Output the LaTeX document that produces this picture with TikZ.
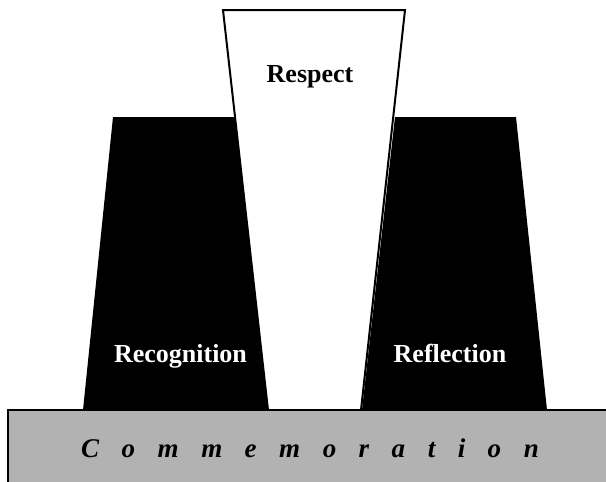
\documentclass[tikz,border=0pt]{standalone}
\usepackage{fontspec}
\setmainfont{Liberation Serif}
\newcommand{\lettergap}{\hspace{22.5pt}}
\begin{document}
\begin{tikzpicture}[x=1pt, y=-1pt,
    pillar/.style={fill=black},
    label/.style={anchor=base, inner sep=0pt, font=\fontsize{26}{30}\selectfont\bfseries}]
        \useasboundingbox (0,0) rectangle (606,482);
        \clip (0,0) rectangle (606,482);
        % Side pillars
        \fill[pillar] (113,117) -- (235,117) -- (268,410) -- (83,410) -- cycle;
        \fill[pillar] (395,117) -- (516,117) -- (547,410) -- (362,410) -- cycle;
        % Middle pillar
        \draw[fill=white, line width=2pt] (223,10) -- (405,10) -- (361,410) -- (268,410) -- cycle;
        % Base
        \draw[fill=black!30, line width=2.5pt] (8,410) rectangle (620,500);
        % Labels
        \node[label] (respect) at (310,82) {Respect};
        \node[label, text=white] (recognition) at (180.5,362) {Recognition};
        \node[label, text=white] (reflection) at (450,362) {Reflection};
        \node[label, font=\fontsize{27}{30}\selectfont\bfseries\itshape] (commemoration) at (310,457)
            {C\lettergap o\lettergap m\lettergap m\lettergap e\lettergap m\lettergap o\lettergap r\lettergap a\lettergap t\lettergap i\lettergap o\lettergap n};
\end{tikzpicture}
\end{document}
